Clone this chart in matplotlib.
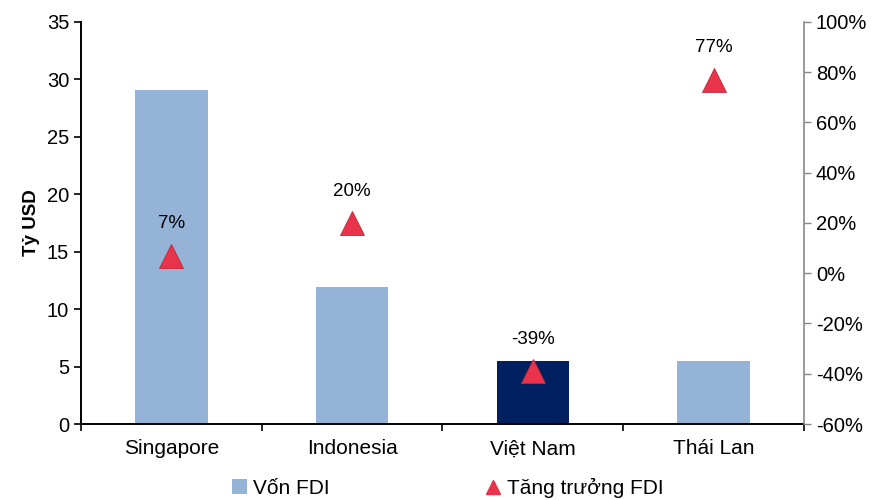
import matplotlib
matplotlib.use("Agg")
import matplotlib.pyplot as plt
from matplotlib.lines import Line2D
from matplotlib.patches import Patch

plt.rcParams['font.family'] = ['Liberation Sans', 'DejaVu Sans']

countries = ["Singapore", "Indonesia", "Việt Nam", "Thái Lan"]
fdi_capital = [29.1, 11.9, 5.5, 5.5]        # Tỷ USD
fdi_growth = [7, 20, -39, 77]               # %
growth_labels = ["7%", "20%", "-39%", "77%"]
left_ticks = [0, 5, 10, 15, 20, 25, 30, 35]
right_ticks = [-60, -40, -20, 0, 20, 40, 60, 80, 100]

bar_color = "#95B3D7"
highlight_color = "#002060"
marker_color = "#E8334A"

fig = plt.figure(figsize=(8.78, 5.0), dpi=100)
ax = fig.add_axes([81 / 878, 76 / 500, 723 / 878, 402 / 500])

x = list(range(len(countries)))
colors = [highlight_color if c == "Việt Nam" else bar_color for c in countries]
ax.bar(x, fdi_capital, width=0.4, color=colors, zorder=2)

ax.set_xlim(-0.5, len(countries) - 0.5)
ax.set_ylim(0, 35)
ax.set_yticks(left_ticks)
ax.set_xticks(x)
ax.set_xticklabels(countries)
ax.set_xticks([i + 0.5 for i in range(-1, len(countries))], minor=True)
ax.tick_params(axis="x", which="major", length=0, labelsize=15, pad=11)
ax.tick_params(axis="x", which="minor", length=5, width=1.2, direction="out")
ax.tick_params(axis="y", labelsize=14.5, length=5, width=1.2, direction="out")
ax.set_ylabel("Tỷ USD", fontsize=13.5, fontweight="bold", labelpad=5)
for side in ("top", "right"):
    ax.spines[side].set_visible(False)
ax.spines["left"].set_linewidth(1.4)
ax.spines["bottom"].set_linewidth(1.4)

ax2 = ax.twinx()
ax2.set_ylim(-60, 100)
ax2.set_yticks(right_ticks)
ax2.set_yticklabels([f"{t}%" for t in right_ticks])
ax2.tick_params(axis="y", labelsize=14.5, length=5, width=1.0, color="#888888",
                direction="out")
for side in ("top", "left", "bottom"):
    ax2.spines[side].set_visible(False)
ax2.spines["right"].set_color("#888888")
ax2.spines["right"].set_linewidth(1.2)

ax2.plot(x, fdi_growth, linestyle="none", marker="^", markersize=17,
         color=marker_color, markeredgecolor="#C02838", markeredgewidth=0.6,
         zorder=3)
for xi, yi, lab in zip(x, fdi_growth, growth_labels):
    ax2.annotate(lab, (xi, yi), xytext=(0, 23), textcoords="offset points",
                 ha="center", va="center", fontsize=13.5)

handles = [
    Patch(facecolor=bar_color, edgecolor="none", label="Vốn FDI"),
    Line2D([], [], linestyle="none", marker="^", markersize=10,
           color=marker_color, label="Tăng trưởng FDI"),
]
fig.legend(handles=handles, loc="center", bbox_to_anchor=(448 / 878, 12 / 500),
           ncol=2, frameon=False, fontsize=15, columnspacing=7.5,
           handlelength=0.7, handletextpad=0.3)

fig.savefig("out.png", dpi=100)
